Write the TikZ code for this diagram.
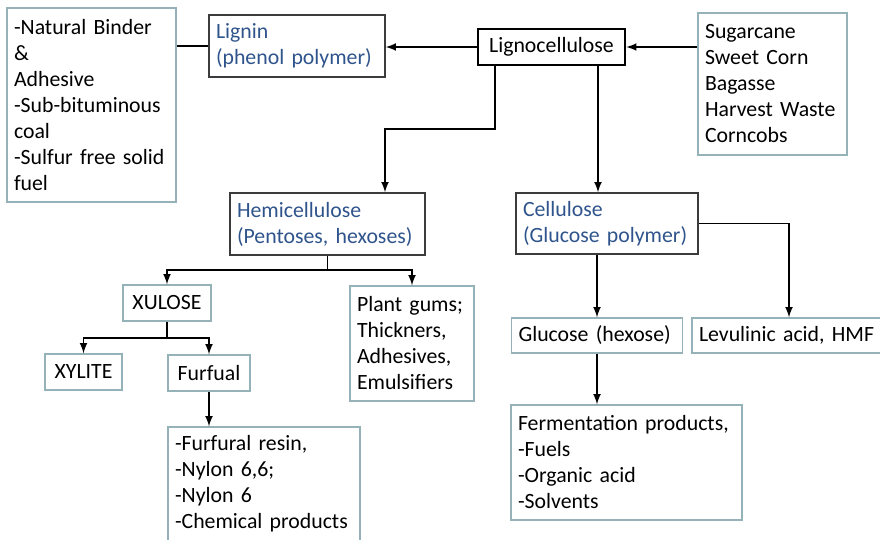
\documentclass[tikz,border=0pt]{standalone}
\usepackage{fontspec}
\setmainfont{Carlito}[WordSpace=0.8]
\usepackage{tikz}
\usetikzlibrary{arrows,positioning}

\definecolor{titleblue}{RGB}{47,84,140}
\definecolor{lightedge}{RGB}{150,178,185}
\definecolor{darkedge}{RGB}{60,60,60}
\newcommand{\boxfont}{\fontsize{12.4}{14.8}\selectfont\hyphenpenalty=10000\relax}

\begin{document}
\begin{tikzpicture}[x=0.02cm,y=-0.02cm]
\tikzstyle{every node}=[font=\boxfont,inner xsep=0.14cm,inner ysep=0pt,align=left]
\tikzstyle{lbox}=[draw=lightedge,line width=0.8pt]
\tikzstyle{dbox}=[draw=darkedge,line width=0.9pt,text=titleblue]
\tikzstyle{arr}=[->,>=latex,line width=1pt]

\useasboundingbox (0,0) rectangle (880,540);

% top row
\node[draw,line width=1.5pt,minimum width=2.94cm,minimum height=0.72cm,align=center] (ligno) at (551.5,47) {Lignocellulose};
\node[dbox,text width=3.24cm,minimum height=1.24cm] (lignin) at (297,46) {Lignin\\(phenol polymer)};
\node[lbox,text width=3.10cm,minimum height=3.88cm] (bind) at (91.5,105) {-Natural Binder\\\&\\Adhesive\\-Sub-bituminous\\coal\\-Sulfur free solid\\fuel};
\node[lbox,text width=2.70cm,minimum height=2.84cm] (feed) at (772.5,84) {Sugarcane\\Sweet Corn\\Bagasse\\Harvest Waste\\Corncobs};

% second row
\node[dbox,text width=3.62cm,minimum height=1.24cm] (hemi) at (327.5,224) {Hemicellulose\\(Pentoses, hexoses)};
\node[dbox,text width=3.36cm,minimum height=1.22cm] (cell) at (607,223.5) {Cellulose\\(Glucose polymer)};

% hemicellulose side
\node[lbox,minimum width=1.76cm,minimum height=0.72cm,align=center] (xulose) at (167,303) {XULOSE};
\node[lbox,text width=2.20cm,minimum height=2.3cm] (gums) at (412,343.5) {Plant gums;\\Thickners,\\Adhesives,\\Emulsifiers};
\node[lbox,minimum width=1.54cm,minimum height=0.72cm,align=center] (xylite) at (83.5,372) {XYLITE};
\node[lbox,minimum width=1.64cm,minimum height=0.72cm,align=center] (furf) at (209,373) {Furfual};
\node[lbox,text width=3.56cm,minimum height=2.28cm] (resin) at (264,484) {-Furfural resin,\\-Nylon 6,6;\\-Nylon 6\\-Chemical products};

% cellulose side
\node[lbox,text width=3.14cm,minimum height=0.7cm] (gluc) at (597,335.5) {Glucose (hexose)};
\node[lbox,text width=3.60cm,minimum height=0.7cm] (levul) at (789,335.5) {Levulinic acid, HMF};
\node[lbox,text width=4.34cm,minimum height=2.3cm] (ferm) at (626.5,462.5) {Fermentation products,\\-Fuels\\-Organic acid\\-Solvents};

% connectors
\coordinate (k1) at (495,129);
\coordinate (k2) at (385,129);
\coordinate (k3) at (598,0);
\coordinate (k4) at (327,270);
\coordinate (k5) at (167,338);

\draw[arr] (ligno.west) -- (lignin.east |- ligno.west);
\draw[arr] (feed.west |- ligno.east) -- (ligno.east);
\draw[line width=1pt] (lignin.west) -- (bind.east |- lignin.west);
\draw[arr] (ligno.south -| k1) -- (k1) -- (k2) -- (hemi.north -| k2);
\draw[arr] (ligno.south -| k3) -- (cell.north -| k3);

\draw[line width=1pt] (hemi.south) -- (hemi.south |- k4);
\draw[arr] (hemi.south |- k4) -| (xulose.north);
\draw[arr] (hemi.south |- k4) -| (gums.north);
\draw[line width=1pt] (xulose.south) -- (k5);
\draw[arr] (k5) -| (xylite.north);
\draw[arr] (k5) -| (furf.north);
\draw[arr] (furf.south) -- (resin.north -| furf.south);

\draw[arr] (cell.south -| gluc.north) -- (gluc.north);
\draw[arr] (cell.east) -| (levul.north);
\draw[arr] (gluc.south) -- (ferm.north -| gluc.south);
\end{tikzpicture}
\end{document}
